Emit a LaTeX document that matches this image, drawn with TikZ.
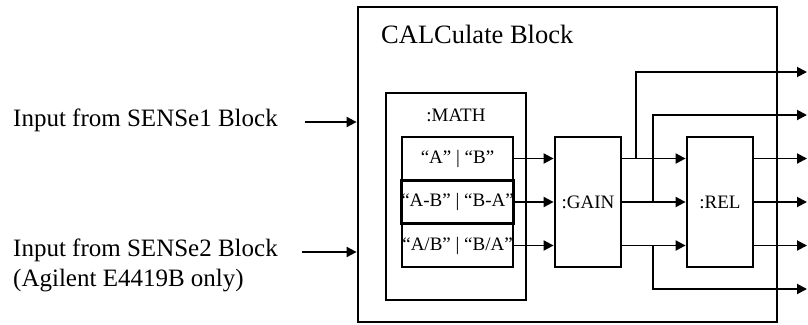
\documentclass[tikz,border=0pt]{standalone}
\usepackage{fontspec}
\setmainfont{Liberation Serif}
\usetikzlibrary{arrows.meta, calc, positioning}

\begin{document}
\begin{tikzpicture}[x=1pt, y=-1pt,
    box/.style={rectangle, draw, line width=2.8pt, inner sep=0pt,
                font=\fontsize{19}{21}\selectfont, align=center},
    cell/.style={box, minimum width=111pt, minimum height=43pt},
    blk/.style={box, minimum width=66pt, minimum height=130pt},
    lbl/.style={inner sep=0pt, anchor=west, align=left,
                font=\fontsize{25}{30}\selectfont},
    arr/.style={-{Triangle[length=10pt, width=10pt]}, line width=1.9pt}
  ]
  \useasboundingbox (0,0) rectangle (808,324);

  % Outer block
  \node[box, minimum width=419pt, minimum height=315pt] (calc) at (567.5,164.5) {};
  \node[lbl, font=\fontsize{26.5}{30}\selectfont] (title) at (381,34) {CALCulate Block};

  % MATH
  \node[box, minimum width=140pt, minimum height=207pt] (math) at (456,196.5) {};
  \node[font=\fontsize{19}{21}\selectfont] (mathlbl) at (456,115) {:MATH};
  \node[cell] (r1) at (457.5,158.5) {“A” | “B”};
  \node[cell] (r2) at (457.5,202)   {“A-B” | “B-A”};
  \node[cell] (r3) at (457.5,245.5) {“A/B” | “B/A”};

  % GAIN and REL
  \node[blk] (gain) at (588,202) {:GAIN};
  \node[blk] (rel)  at (720,202) {:REL};

  % Inputs
  \node[lbl] (in1) at (13,120) {Input from SENSe1 Block};
  \node[lbl] (in2) at (13,265) {Input from SENSe2 Block\\(Agilent E4419B only)};
  \coordinate (s1) at ($(in1.east)+(27,2)$);
  \coordinate (s2) at ($(in2.east)+(24,-13)$);
  \draw[arr] (s1) -- (s1 -| calc.west);
  \draw[arr] (s2) -- (s2 -| calc.west);

  % MATH to GAIN
  \draw[arr] (r1.east) -- (r1.east -| gain.west);
  \draw[arr] (r2.east) -- (r2.east -| gain.west);
  \draw[arr] (r3.east) -- (r3.east -| gain.west);

  % GAIN to REL
  \coordinate (g1) at (r1.east -| gain.east);
  \coordinate (g2) at (r2.east -| gain.east);
  \coordinate (g3) at (r3.east -| gain.east);
  \draw[arr] (g1) -- (g1 -| rel.west);
  \draw[arr] (g2) -- (g2 -| rel.west);
  \draw[arr] (g3) -- (g3 -| rel.west);

  % Outputs
  \coordinate (o1) at (807,72);
  \coordinate (o2) at (807,115);
  \coordinate (o6) at (807,289);
  \coordinate (b1) at ($(g1)+(14,0)$);
  \coordinate (b2) at ($(g2)+(31,0)$);
  \coordinate (b3) at ($(g3)+(31,0)$);
  \draw[arr] (b1) |- (o1);
  \draw[arr] (b2) |- (o2);
  \draw[arr] (b3) |- (o6);
  \draw[arr] (g1 -| rel.east) -- (g1 -| o1);
  \draw[arr] (g2 -| rel.east) -- (g2 -| o1);
  \draw[arr] (g3 -| rel.east) -- (g3 -| o1);
\end{tikzpicture}
\end{document}
